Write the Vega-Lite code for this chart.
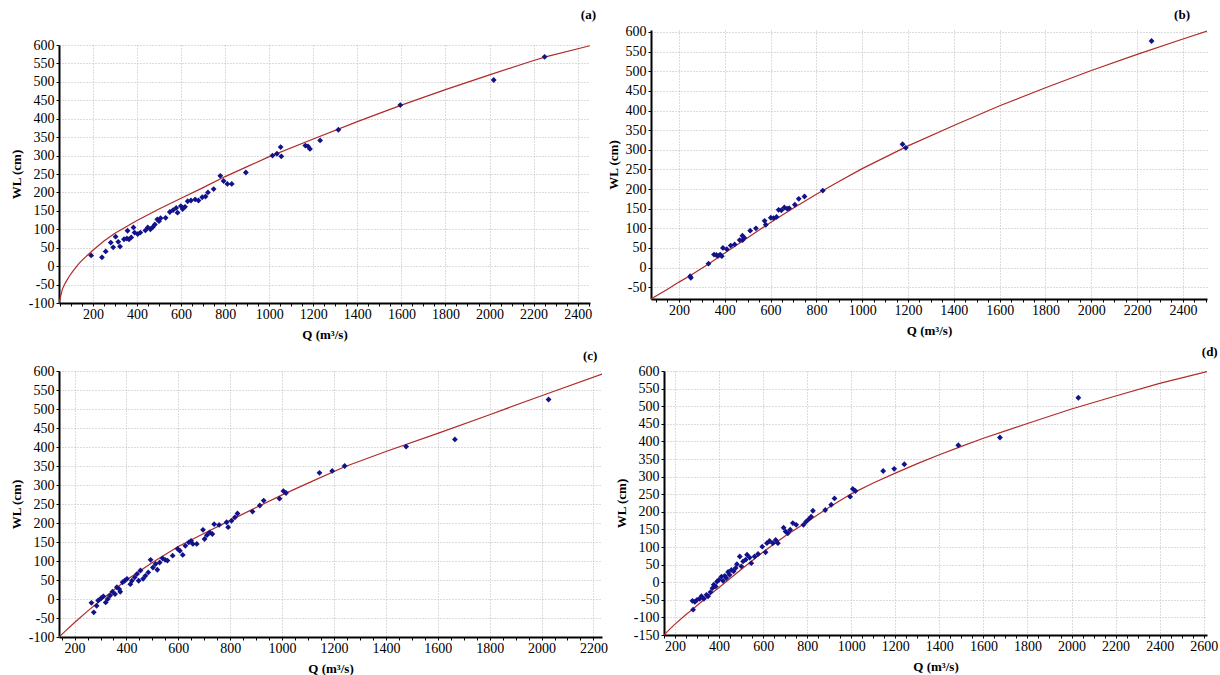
{
  "$schema": "https://vega.github.io/schema/vega-lite/v6.json",
  "padding": {"left": 10, "top": 8, "right": 0, "bottom": 0},
  "spacing": 5,
  "config": {
    "font": "Liberation Serif",
    "view": {"stroke": null},
    "axis": {
      "domainColor": "#000000", "domainWidth": 2, "tickColor": "#000000", "tickSize": 3,
      "gridColor": "#b8b8b8", "gridDash": [1, 2], "gridWidth": 1,
      "labelFont": "Liberation Serif", "labelFontSize": 14, "labelColor": "#000000",
      "titleFont": "Liberation Serif", "titleFontSize": 13, "titleFontWeight": "bold", "titleColor": "#000000",
      "labelOverlap": false
    },
    "axisX": {"labelPadding": 1, "titlePadding": 7},
    "axisY": {"labelPadding": 2, "titlePadding": 5},
    "title": {"font": "Liberation Serif", "fontSize": 13, "fontWeight": "bold", "anchor": "end", "color": "#000000"}
  },
  "datasets": {
    "a_pts": [
      {"Q":192,"WL":29},{"Q":241,"WL":24},{"Q":258,"WL":40},{"Q":281,"WL":64},{"Q":292,"WL":51},{"Q":303,"WL":80},{"Q":315,"WL":66},{"Q":323,"WL":53},{"Q":341,"WL":73},{"Q":354,"WL":75},{"Q":357,"WL":96},{"Q":364,"WL":73},{"Q":374,"WL":78},{"Q":384,"WL":105},{"Q":389,"WL":91},{"Q":403,"WL":87},{"Q":415,"WL":91},{"Q":438,"WL":97},{"Q":449,"WL":105},{"Q":461,"WL":100},{"Q":472,"WL":106},{"Q":481,"WL":113},{"Q":492,"WL":127},{"Q":500,"WL":122},{"Q":507,"WL":130},{"Q":530,"WL":131},{"Q":549,"WL":147},{"Q":564,"WL":152},{"Q":578,"WL":158},{"Q":584,"WL":145},{"Q":599,"WL":163},{"Q":607,"WL":155},{"Q":618,"WL":161},{"Q":630,"WL":176},{"Q":645,"WL":178},{"Q":664,"WL":181},{"Q":679,"WL":178},{"Q":696,"WL":187},{"Q":711,"WL":189},{"Q":722,"WL":200},{"Q":748,"WL":209},{"Q":778,"WL":245},{"Q":793,"WL":231},{"Q":810,"WL":223},{"Q":830,"WL":223},{"Q":894,"WL":254},{"Q":1015,"WL":300},{"Q":1035,"WL":305},{"Q":1052,"WL":323},{"Q":1055,"WL":298},{"Q":1164,"WL":327},{"Q":1176,"WL":325},{"Q":1185,"WL":318},{"Q":1231,"WL":341},{"Q":1314,"WL":370},{"Q":1595,"WL":437},{"Q":2019,"WL":505},{"Q":2250,"WL":568}
    ],
    "a_curve": [
      {"Q":46,"WL":-100},{"Q":50,"WL":-90},{"Q":55,"WL":-78},{"Q":61,"WL":-63},{"Q":70,"WL":-51},{"Q":80,"WL":-40},{"Q":92,"WL":-28},{"Q":110,"WL":-13},{"Q":138,"WL":8},{"Q":170,"WL":27},{"Q":200,"WL":43},{"Q":250,"WL":68},{"Q":300,"WL":89},{"Q":400,"WL":124},{"Q":500,"WL":155},{"Q":600,"WL":184},{"Q":700,"WL":213},{"Q":800,"WL":243},{"Q":900,"WL":270},{"Q":1000,"WL":297},{"Q":1200,"WL":345},{"Q":1400,"WL":392},{"Q":1600,"WL":437},{"Q":1800,"WL":479},{"Q":2000,"WL":519},{"Q":2200,"WL":558},{"Q":2263,"WL":569},{"Q":2456,"WL":598}
    ],
    "b_pts": [
      {"Q":249,"WL":-22},{"Q":252,"WL":-26},{"Q":329,"WL":10},{"Q":353,"WL":33},{"Q":363,"WL":32},{"Q":371,"WL":30},{"Q":380,"WL":33},{"Q":387,"WL":29},{"Q":392,"WL":50},{"Q":409,"WL":47},{"Q":426,"WL":56},{"Q":443,"WL":59},{"Q":465,"WL":70},{"Q":477,"WL":81},{"Q":478,"WL":70},{"Q":485,"WL":76},{"Q":511,"WL":94},{"Q":536,"WL":100},{"Q":574,"WL":119},{"Q":579,"WL":109},{"Q":601,"WL":127},{"Q":613,"WL":126},{"Q":626,"WL":129},{"Q":635,"WL":147},{"Q":647,"WL":146},{"Q":660,"WL":153},{"Q":672,"WL":150},{"Q":681,"WL":151},{"Q":706,"WL":160},{"Q":723,"WL":175},{"Q":748,"WL":181},{"Q":828,"WL":196},{"Q":1176,"WL":314},{"Q":1190,"WL":305},{"Q":2263,"WL":577}
    ],
    "b_curve": [
      {"Q":78,"WL":-80},{"Q":150,"WL":-55},{"Q":200,"WL":-37},{"Q":250,"WL":-20},{"Q":329,"WL":9},{"Q":400,"WL":37},{"Q":500,"WL":76},{"Q":600,"WL":115},{"Q":700,"WL":152},{"Q":800,"WL":187},{"Q":900,"WL":220},{"Q":1000,"WL":252},{"Q":1200,"WL":310},{"Q":1400,"WL":362},{"Q":1600,"WL":412},{"Q":1800,"WL":458},{"Q":2000,"WL":502},{"Q":2200,"WL":543},{"Q":2400,"WL":582},{"Q":2505,"WL":602}
    ],
    "c_pts": [
      {"Q":265,"WL":-10},{"Q":274,"WL":-35},{"Q":285,"WL":-18},{"Q":291,"WL":-4},{"Q":302,"WL":2},{"Q":311,"WL":7},{"Q":320,"WL":-9},{"Q":328,"WL":0},{"Q":337,"WL":9},{"Q":346,"WL":19},{"Q":356,"WL":13},{"Q":363,"WL":31},{"Q":372,"WL":26},{"Q":376,"WL":19},{"Q":385,"WL":44},{"Q":393,"WL":48},{"Q":402,"WL":53},{"Q":415,"WL":39},{"Q":421,"WL":48},{"Q":432,"WL":57},{"Q":441,"WL":66},{"Q":447,"WL":48},{"Q":454,"WL":75},{"Q":464,"WL":53},{"Q":473,"WL":61},{"Q":484,"WL":70},{"Q":493,"WL":103},{"Q":502,"WL":83},{"Q":512,"WL":92},{"Q":519,"WL":77},{"Q":528,"WL":96},{"Q":539,"WL":107},{"Q":549,"WL":103},{"Q":558,"WL":101},{"Q":578,"WL":114},{"Q":597,"WL":132},{"Q":606,"WL":127},{"Q":617,"WL":116},{"Q":627,"WL":140},{"Q":640,"WL":149},{"Q":649,"WL":153},{"Q":656,"WL":145},{"Q":671,"WL":145},{"Q":695,"WL":182},{"Q":701,"WL":158},{"Q":710,"WL":168},{"Q":721,"WL":175},{"Q":731,"WL":171},{"Q":738,"WL":197},{"Q":757,"WL":195},{"Q":786,"WL":202},{"Q":792,"WL":189},{"Q":805,"WL":206},{"Q":818,"WL":215},{"Q":828,"WL":225},{"Q":886,"WL":230},{"Q":914,"WL":246},{"Q":929,"WL":259},{"Q":990,"WL":264},{"Q":1005,"WL":284},{"Q":1015,"WL":279},{"Q":1144,"WL":332},{"Q":1193,"WL":337},{"Q":1241,"WL":350},{"Q":1478,"WL":401},{"Q":1666,"WL":420},{"Q":2027,"WL":525}
    ],
    "c_curve": [
      {"Q":140,"WL":-100},{"Q":160,"WL":-87},{"Q":200,"WL":-62},{"Q":250,"WL":-32},{"Q":300,"WL":-4},{"Q":350,"WL":23},{"Q":400,"WL":50},{"Q":500,"WL":96},{"Q":600,"WL":138},{"Q":700,"WL":173},{"Q":800,"WL":207},{"Q":900,"WL":241},{"Q":1000,"WL":274},{"Q":1100,"WL":305},{"Q":1241,"WL":348},{"Q":1400,"WL":388},{"Q":1600,"WL":436},{"Q":1800,"WL":485},{"Q":2000,"WL":535},{"Q":2233,"WL":592}
    ],
    "d_pts": [
      {"Q":279,"WL":-53},{"Q":282,"WL":-78},{"Q":290,"WL":-56},{"Q":300,"WL":-50},{"Q":312,"WL":-47},{"Q":320,"WL":-40},{"Q":331,"WL":-47},{"Q":343,"WL":-36},{"Q":350,"WL":-40},{"Q":361,"WL":-28},{"Q":370,"WL":-17},{"Q":376,"WL":-7},{"Q":385,"WL":-12},{"Q":391,"WL":2},{"Q":400,"WL":7},{"Q":411,"WL":16},{"Q":418,"WL":4},{"Q":426,"WL":18},{"Q":433,"WL":12},{"Q":441,"WL":29},{"Q":448,"WL":21},{"Q":456,"WL":35},{"Q":466,"WL":31},{"Q":475,"WL":40},{"Q":481,"WL":51},{"Q":494,"WL":73},{"Q":501,"WL":45},{"Q":509,"WL":59},{"Q":521,"WL":64},{"Q":527,"WL":78},{"Q":539,"WL":70},{"Q":546,"WL":54},{"Q":561,"WL":73},{"Q":577,"WL":80},{"Q":596,"WL":101},{"Q":611,"WL":85},{"Q":617,"WL":111},{"Q":629,"WL":117},{"Q":644,"WL":111},{"Q":657,"WL":120},{"Q":667,"WL":111},{"Q":693,"WL":155},{"Q":702,"WL":144},{"Q":712,"WL":139},{"Q":723,"WL":149},{"Q":735,"WL":168},{"Q":750,"WL":163},{"Q":783,"WL":163},{"Q":795,"WL":172},{"Q":807,"WL":179},{"Q":818,"WL":186},{"Q":826,"WL":203},{"Q":882,"WL":205},{"Q":909,"WL":220},{"Q":924,"WL":238},{"Q":995,"WL":243},{"Q":1007,"WL":265},{"Q":1019,"WL":259},{"Q":1145,"WL":316},{"Q":1195,"WL":322},{"Q":1241,"WL":335},{"Q":1486,"WL":389},{"Q":1675,"WL":411},{"Q":2031,"WL":524}
    ],
    "d_curve": [
      {"Q":150,"WL":-150},{"Q":175,"WL":-134},{"Q":200,"WL":-119},{"Q":250,"WL":-92},{"Q":278,"WL":-78},{"Q":300,"WL":-66},{"Q":350,"WL":-40},{"Q":400,"WL":-15},{"Q":500,"WL":36},{"Q":600,"WL":86},{"Q":700,"WL":131},{"Q":800,"WL":172},{"Q":900,"WL":213},{"Q":1000,"WL":251},{"Q":1100,"WL":282},{"Q":1200,"WL":310},{"Q":1300,"WL":337},{"Q":1400,"WL":362},{"Q":1500,"WL":386},{"Q":1600,"WL":409},{"Q":1700,"WL":430},{"Q":1800,"WL":451},{"Q":2000,"WL":492},{"Q":2200,"WL":529},{"Q":2400,"WL":565},{"Q":2615,"WL":598}
    ]
  },
  "vconcat": [
    {
      "spacing": 11,
      "hconcat": [
        {
          "spacing": 7,
          "vconcat": [
            {
              "width": 531, "height": 1,
              "title": {"text": "(a)", "offset": 8, "dx": 6},
              "data": {"values": []},
              "mark": "point"
            },
            {
              "width": 531, "height": 258,
              "encoding": {
                "x": {"field": "Q", "type": "quantitative", "scale": {"domain": [46, 2456], "nice": false, "zero": false},
                  "axis": {"title": "Q (m³/s)", "values": [50,100,150,200,250,300,350,400,450,500,550,600,650,700,750,800,850,900,950,1000,1050,1100,1150,1200,1250,1300,1350,1400,1450,1500,1550,1600,1650,1700,1750,1800,1850,1900,1950,2000,2050,2100,2150,2200,2250,2300,2350,2400,2450],
                    "labelExpr": "datum.value % 200 === 0 ? '' + datum.value : ''",
                    "gridOpacity": {"condition": {"test": "datum.value % 200 !== 0", "value": 0}, "value": 1}}},
                "y": {"field": "WL", "type": "quantitative", "scale": {"domain": [-100, 600], "nice": false, "zero": false},
                  "axis": {"title": "WL (cm)", "values": [-100,-50,0,50,100,150,200,250,300,350,400,450,500,550,600], "labelExpr": "'' + datum.value"}}
              },
              "layer": [
                {"data": {"name": "a_curve"}, "mark": {"type": "line", "color": "#b02a2a", "strokeWidth": 1.2, "clip": true}},
                {"data": {"name": "a_pts"}, "mark": {"type": "point", "shape": "diamond", "filled": true, "color": "#12128a", "size": 34, "opacity": 1}}
              ]
            }
          ]
        },
        {
          "width": 556, "height": 269,
          "title": {"text": "(b)", "offset": 3, "dx": -17},
          "encoding": {
            "x": {"field": "Q", "type": "quantitative", "scale": {"domain": [78, 2505], "nice": false, "zero": false},
              "axis": {"title": "Q (m³/s)", "values": [100,150,200,250,300,350,400,450,500,550,600,650,700,750,800,850,900,950,1000,1050,1100,1150,1200,1250,1300,1350,1400,1450,1500,1550,1600,1650,1700,1750,1800,1850,1900,1950,2000,2050,2100,2150,2200,2250,2300,2350,2400,2450,2500],
                "labelExpr": "datum.value % 200 === 0 ? '' + datum.value : ''",
                "gridOpacity": {"condition": {"test": "datum.value % 200 !== 0", "value": 0}, "value": 1}}},
            "y": {"field": "WL", "type": "quantitative", "scale": {"domain": [-80, 605], "nice": false, "zero": false},
              "axis": {"title": "WL (cm)", "values": [-50,0,50,100,150,200,250,300,350,400,450,500,550,600], "labelExpr": "'' + datum.value"}}
          },
          "layer": [
            {"data": {"name": "b_curve"}, "mark": {"type": "line", "color": "#b02a2a", "strokeWidth": 1.2, "clip": true}},
            {"data": {"name": "b_pts"}, "mark": {"type": "point", "shape": "diamond", "filled": true, "color": "#12128a", "size": 34, "opacity": 1}}
          ]
        }
      ]
    },
    {
      "spacing": 7,
      "hconcat": [
        {
          "width": 543, "height": 266,
          "title": {"text": "(c)", "offset": 1, "dx": -10},
          "encoding": {
            "x": {"field": "Q", "type": "quantitative", "scale": {"domain": [140, 2233], "nice": false, "zero": false},
              "axis": {"title": "Q (m³/s)", "values": [150,200,250,300,350,400,450,500,550,600,650,700,750,800,850,900,950,1000,1050,1100,1150,1200,1250,1300,1350,1400,1450,1500,1550,1600,1650,1700,1750,1800,1850,1900,1950,2000,2050,2100,2150,2200],
                "labelExpr": "datum.value % 200 === 0 ? '' + datum.value : ''",
                "gridOpacity": {"condition": {"test": "datum.value % 200 !== 0", "value": 0}, "value": 1}}},
            "y": {"field": "WL", "type": "quantitative", "scale": {"domain": [-100, 600], "nice": false, "zero": false},
              "axis": {"title": "WL (cm)", "values": [-100,-50,0,50,100,150,200,250,300,350,400,450,500,550,600], "labelExpr": "'' + datum.value"}}
          },
          "layer": [
            {"data": {"name": "c_curve"}, "mark": {"type": "line", "color": "#b02a2a", "strokeWidth": 1.2, "clip": true}},
            {"data": {"name": "c_pts"}, "mark": {"type": "point", "shape": "diamond", "filled": true, "color": "#12128a", "size": 34, "opacity": 1}}
          ]
        },
        {
          "width": 543, "height": 264,
          "title": {"text": "(d)", "offset": 5, "dx": 0},
          "encoding": {
            "x": {"field": "Q", "type": "quantitative", "scale": {"domain": [150, 2615], "nice": false, "zero": false},
              "axis": {"title": "Q (m³/s)", "values": [150,200,250,300,350,400,450,500,550,600,650,700,750,800,850,900,950,1000,1050,1100,1150,1200,1250,1300,1350,1400,1450,1500,1550,1600,1650,1700,1750,1800,1850,1900,1950,2000,2050,2100,2150,2200,2250,2300,2350,2400,2450,2500,2550,2600],
                "labelExpr": "datum.value % 200 === 0 ? '' + datum.value : ''",
                "gridOpacity": {"condition": {"test": "datum.value % 200 !== 0", "value": 0}, "value": 1}}},
            "y": {"field": "WL", "type": "quantitative", "scale": {"domain": [-150, 600], "nice": false, "zero": false},
              "axis": {"title": "WL (cm)", "values": [-150,-100,-50,0,50,100,150,200,250,300,350,400,450,500,550,600], "labelExpr": "'' + datum.value"}}
          },
          "layer": [
            {"data": {"name": "d_curve"}, "mark": {"type": "line", "color": "#b02a2a", "strokeWidth": 1.2, "clip": true}},
            {"data": {"name": "d_pts"}, "mark": {"type": "point", "shape": "diamond", "filled": true, "color": "#12128a", "size": 34, "opacity": 1}}
          ]
        }
      ]
    }
  ]
}
